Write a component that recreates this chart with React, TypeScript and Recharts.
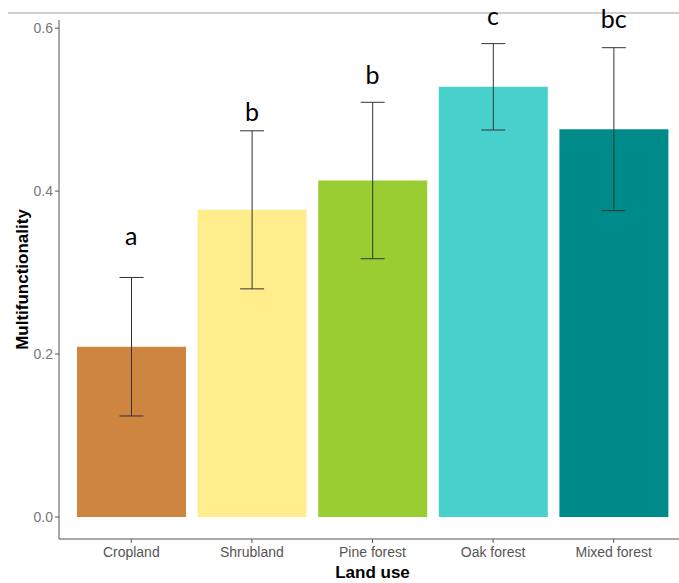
import React from 'react';
import {
  ComposedChart,
  Bar,
  Cell,
  ErrorBar,
  XAxis,
  YAxis,
  ReferenceDot,
} from 'recharts';

const landUse = ['Cropland', 'Shrubland', 'Pine forest', 'Oak forest', 'Mixed forest'];
const means = [0.209, 0.377, 0.413, 0.528, 0.476];
const errors = [0.085, 0.097, 0.096, 0.053, 0.1];
const letters = ['a', 'b', 'b', 'c', 'bc'];
const letterY = [0.345, 0.497, 0.542, 0.615, 0.611];
const colors = ['#CD853F', '#FFEC8B', '#9ACD32', '#48D1CC', '#008B8B'];
const yTicks = [0, 0.2, 0.4, 0.6];

const data = landUse.map((name, i) => ({ name, mean: means[i], err: errors[i] }));

const axisColor = '#555';
const tickFill = '#555';
const sans = '"Liberation Sans", Arial, sans-serif';

export default function App() {
  return (
    <div
      style={{
        position: 'absolute',
        left: 0,
        top: 0,
        width: 679,
        height: 583,
        overflow: 'hidden',
        background: '#fff',
      }}
    >
      {/* thin grey rule across the top of the figure */}
      <div
        style={{
          position: 'absolute',
          left: 8,
          right: 0,
          top: 12,
          height: 1.5,
          background: '#cfcfcf',
        }}
      />
      <ComposedChart
        width={690}
        height={583}
        data={data}
        margin={{ top: 20, right: 4, bottom: 0, left: 0 }}
      >
        <XAxis
          dataKey="name"
          type="category"
          height={44}
          padding={{ left: 12, right: 12 }}
          stroke={axisColor}
          tickSize={4}
          tickMargin={4}
          tick={{ fill: tickFill, fontSize: 14, fontFamily: sans }}
          label={{
            value: 'Land use',
            position: 'insideBottom',
            offset: 5,
            fill: '#000',
            fontSize: 17,
            fontWeight: 'bold',
            fontFamily: sans,
          }}
        />
        <YAxis
          type="number"
          width={59}
          domain={[-0.027, 0.61]}
          ticks={yTicks}
          tickFormatter={(v: number) => v.toFixed(1)}
          stroke={axisColor}
          tickSize={4}
          tickMargin={2}
          tick={{ fill: '#777', fontSize: 14, fontFamily: sans }}
          label={{
            value: 'Multifunctionality',
            angle: -90,
            position: 'insideLeft',
            offset: 22,
            fill: '#000',
            fontSize: 17,
            fontWeight: 'bold',
            fontFamily: sans,
            style: { textAnchor: 'middle' },
          }}
        />
        <Bar dataKey="mean" barSize={109} isAnimationActive={false}>
          {data.map((d, i) => (
            <Cell key={d.name} fill={colors[i]} />
          ))}
          <ErrorBar
            dataKey="err"
            width={12}
            stroke="#333"
            strokeWidth={1}
            isAnimationActive={false}
          />
        </Bar>
        {landUse.map((name, i) => (
          <ReferenceDot
            key={name}
            x={name}
            y={letterY[i]}
            r={0}
            fill="none"
            stroke="none"
            ifOverflow="visible"
            label={{
              value: letters[i],
              position: 'center',
              fill: '#000',
              fontSize: 25,
              fontFamily: 'Lato, "Open Sans", sans-serif',
            }}
          />
        ))}
      </ComposedChart>
    </div>
  );
}
